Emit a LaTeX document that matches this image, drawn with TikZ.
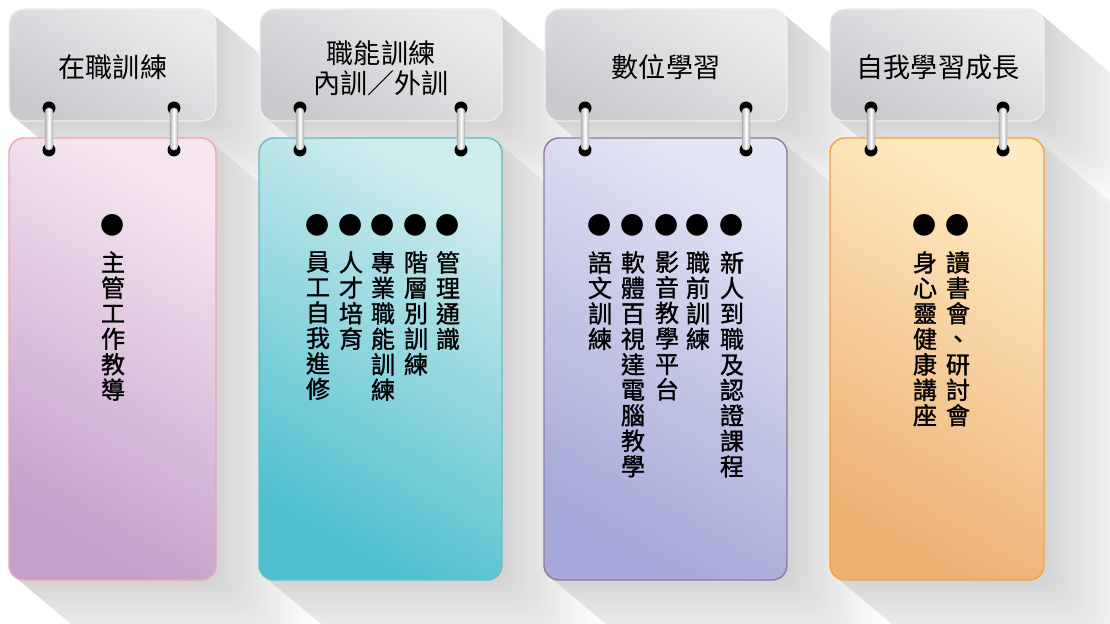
\documentclass[tikz,border=0pt]{standalone}
\usepackage{fontspec}
\newfontfamily\cjk{Noto Sans CJK TC}
\newfontfamily\cjkbold{Noto Sans CJK TC}[FakeBold=1.2]
\usepackage{xcolor}

\definecolor{headlight}{HTML}{EBECED}
\definecolor{headdark}{HTML}{C9CACE}
\definecolor{pinklight}{HTML}{F5E6F1}
\definecolor{pinkdark}{HTML}{C3A0CB}
\definecolor{pinkline}{HTML}{F0A2B4}
\definecolor{teallight}{HTML}{CFECEE}
\definecolor{tealdark}{HTML}{4DBFCE}
\definecolor{tealline}{HTML}{6BBAC6}
\definecolor{lilaclight}{HTML}{E3E4F4}
\definecolor{lilacdark}{HTML}{A5A8D8}
\definecolor{lilacline}{HTML}{8E7B9C}
\definecolor{orangelight}{HTML}{FEEAC2}
\definecolor{orangedark}{HTML}{EEB073}
\definecolor{orangeline}{HTML}{F6A23A}

\begin{document}
\begin{tikzpicture}[x=0.02cm,y=-0.02cm,line cap=round,
  headbox/.style={top color=headlight,bottom color=headdark,shading angle=-30,
    draw=white!88!gray,line width=0.6pt,rounded corners=0.3cm},
  cardbox/.style n args={3}{top color=#1,bottom color=#2,draw=#3,
    shading angle=-30,line width=0.8pt,rounded corners=0.3cm},
  headtext/.style={font=\cjk\fontsize{15.4pt}{17pt}\selectfont,align=center},
  itemtext/.style={font=\cjkbold\fontsize{13.7pt}{14.5pt}\selectfont,
    text width=14pt,align=center,anchor=north,inner sep=0pt},
  bulletmark/.style={font=\cjk\fontsize{13.7pt}{14.5pt}\selectfont,inner sep=0pt}]
\useasboundingbox (0,0) rectangle (1110,624);

% long shadows
\begin{scope}
\clip (0,0) rectangle (1110,624);
\foreach \t in {100,98,...,0}{
  \pgfmathsetmacro\shd{17*(1-\t/100)}
  \foreach \xa/\ya/\xb/\yb in {9/9/216/121,260/9/502/121,545/9/787/121,830/9/1044/121,
      9/138/216/580,259/138/502/580,544/138/787/580,830/138/1044/580}
    \fill[black!\shd,rounded corners=0.3cm] ({\xa+\t},{\ya+0.84*\t}) rectangle ({\xb+\t},{\yb+0.84*\t});
}
\end{scope}

% cards
\shade[cardbox={pinklight}{pinkdark}{pinkline}] (9,138) rectangle (216,580);
\shade[cardbox={teallight}{tealdark}{tealline}] (259,138) rectangle (502,580);
\shade[cardbox={lilaclight}{lilacdark}{lilacline}] (544,138) rectangle (787,580);
\shade[cardbox={orangelight}{orangedark}{orangeline}] (830,138) rectangle (1044,580);

% header tabs
\shade[headbox] (9,9) rectangle (216,121);
\shade[headbox] (260,9) rectangle (502,121);
\shade[headbox] (545,9) rectangle (787,121);
\shade[headbox] (830,9) rectangle (1044,121);

% rings
\foreach \rx in {49,174,300,461,585,746,871,1003}{
  \fill (\rx,108) circle (0.13cm);
  \fill (\rx,150) circle (0.13cm);
  \shade[left color=gray!55,right color=gray!55,middle color=white,draw=gray!65,
    line width=0.3pt,rounded corners=0.07cm] ({\rx-3.8},108) rectangle ({\rx+3.8},150);
}

% header texts
\node[headtext] (head1) at (113,67) {在職訓練};
\node[headtext] (head2) at (381,68) {職能訓練\\內訓／外訓};
\node[headtext] (head3) at (666,67) {數位學習};
\node[headtext] (head4) at (938,67) {自我學習成長};

% bullets
\foreach \bx [count=\i] in {113,448,416,383,351,318,732,698,667,633,600,958,925}
  \node[bulletmark] (dot\i) at (\bx,225) {●};

% items
\node[itemtext] (item1) at (113,251) {主\\管\\工\\作\\教\\導};
\node[itemtext] (item2) at (448,251) {管\\理\\通\\識};
\node[itemtext] (item3) at (416,251) {階\\層\\別\\訓\\練};
\node[itemtext] (item4) at (383,251) {專\\業\\職\\能\\訓\\練};
\node[itemtext] (item5) at (351,251) {人\\才\\培\\育};
\node[itemtext] (item6) at (318,251) {員\\工\\自\\我\\進\\修};
\node[itemtext] (item7) at (732,251) {新\\人\\到\\職\\及\\認\\證\\課\\程};
\node[itemtext] (item8) at (698,251) {職\\前\\訓\\練};
\node[itemtext] (item9) at (667,251) {影\\音\\教\\學\\平\\台};
\node[itemtext] (item10) at (633,251) {軟\\體\\百\\視\\達\\電\\腦\\教\\學};
\node[itemtext] (item11) at (600,251) {語\\文\\訓\\練};
\node[itemtext] (item12) at (958,251) {讀\\書\\會\\、\\研\\討\\會};
\node[itemtext] (item13) at (925,251) {身\\心\\靈\\健\\康\\講\\座};
\end{tikzpicture}
\end{document}
